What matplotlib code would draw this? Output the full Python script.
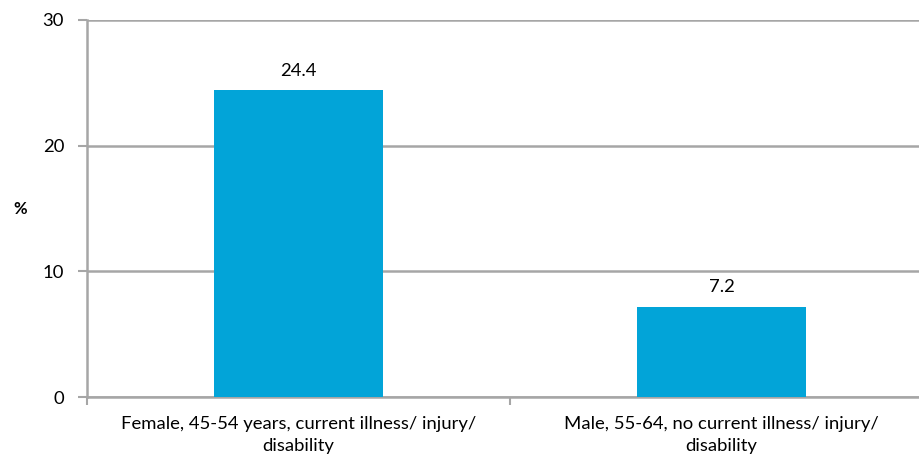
import numpy as np
import matplotlib.pyplot as plt

categories = ["Female, 45-54 years, current illness/ injury/\ndisability",
              "Male, 55-64, no current illness/ injury/\ndisability"]
values = [24.4, 7.2]
yticks = [0, 10, 20, 30]

plt.rcParams['font.family'] = ['Lato', 'DejaVu Sans']
fs = 13.3

fig = plt.figure(figsize=(9.2, 4.65), dpi=100)
# axes runs past the right edge of the picture, like the original
ax = fig.add_axes([87 / 920, 68 / 465, 846 / 920, 377 / 465])

x = np.arange(len(categories))
bars = ax.bar(x, values, width=0.4, color="#02A4D8", zorder=3)

for b, v in zip(bars, values):
    ax.text(b.get_x() + b.get_width() / 2, v + 0.9, str(v),
            ha="center", va="bottom", fontsize=fs)

grid_col = "#A6A6A6"
ax.set_xlim(-0.5, 1.5)
ax.set_ylim(0, 30)
ax.set_yticks(yticks)
ax.yaxis.grid(True, color=grid_col, linewidth=1.8, zorder=0)
ax.tick_params(axis="y", length=6.5, width=1.5, color=grid_col, labelsize=fs, pad=10)

ax.set_xticks([-0.5, 0.5, 1.5])
ax.set_xticklabels([])
ax.tick_params(axis="x", length=6, width=1.5, color=grid_col)
for xi, lab in zip(x, categories):
    ax.text(xi, -1.5, lab, ha="center", va="top", fontsize=fs,
            multialignment="center", linespacing=1.5)

for s in ["top", "right"]:
    ax.spines[s].set_visible(False)
for s in ["left", "bottom"]:
    ax.spines[s].set_color(grid_col)
    ax.spines[s].set_linewidth(1.8)

fig.text(13 / 920, 1 - 209 / 465, "%", fontsize=12, fontweight="bold",
         ha="left", va="center")

fig.savefig("out.png", dpi=100)
